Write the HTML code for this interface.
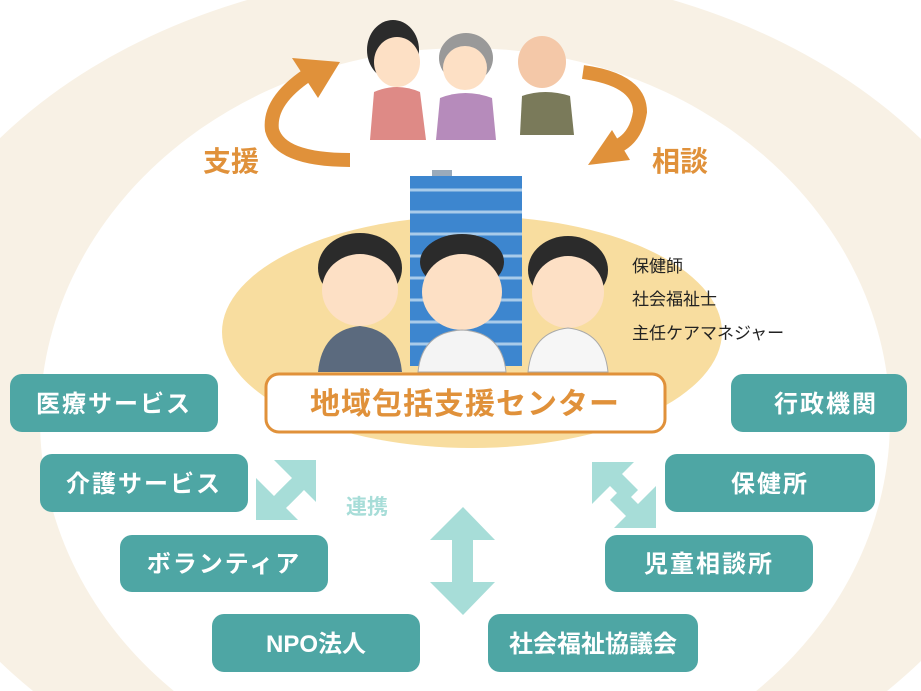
<!DOCTYPE html>
<html><head><meta charset="utf-8"><style>
html,body{margin:0;padding:0;background:#fff;width:921px;height:691px;overflow:hidden;}
svg{display:block;}
text{font-family:"Liberation Sans","Noto Sans CJK JP",sans-serif;}
</style></head><body>
<svg width="921" height="691" viewBox="0 0 921 691" xmlns="http://www.w3.org/2000/svg">
<rect width="921" height="691" fill="#fff"/>
<ellipse cx="460" cy="400" rx="580" ry="430" fill="#f8f1e5"/>
<ellipse cx="465" cy="420" rx="425" ry="372" fill="#fff"/>
<ellipse cx="472" cy="332" rx="250" ry="116" fill="#f8dd9f"/>
<!-- building -->
<rect x="432" y="170" width="20" height="8" fill="#9ab"/>
<rect x="410" y="176" width="112" height="190" fill="#3d86cf"/>
<g stroke="#a8cbea" stroke-width="3">
<line x1="410" y1="190" x2="522" y2="190"/><line x1="410" y1="212" x2="522" y2="212"/><line x1="410" y1="234" x2="522" y2="234"/><line x1="410" y1="256" x2="522" y2="256"/><line x1="410" y1="278" x2="522" y2="278"/><line x1="410" y1="300" x2="522" y2="300"/><line x1="410" y1="322" x2="522" y2="322"/><line x1="410" y1="344" x2="522" y2="344"/>
</g>
<!-- staff people -->
<g>
<ellipse cx="360" cy="268" rx="42" ry="35" fill="#2b2b2b"/>
<ellipse cx="360" cy="290" rx="38" ry="36" fill="#fde0c5"/>
<path d="M318 372 Q322 330 360 326 Q398 330 402 372Z" fill="#5b6a7e"/>
<ellipse cx="462" cy="262" rx="42" ry="28" fill="#2b2b2b"/>
<ellipse cx="462" cy="292" rx="40" ry="38" fill="#fde0c5"/>
<path d="M418 372 Q422 332 462 330 Q502 332 506 372Z" fill="#f4f4f4" stroke="#aaa"/>
<ellipse cx="568" cy="270" rx="40" ry="34" fill="#2b2b2b"/>
<ellipse cx="568" cy="292" rx="36" ry="36" fill="#fde0c5"/>
<path d="M528 372 Q532 332 568 328 Q604 332 608 372Z" fill="#f6f6f6" stroke="#aaa"/>
</g>
<!-- top people -->
<g>
<ellipse cx="393" cy="50" rx="26" ry="30" fill="#2b2b2b"/>
<ellipse cx="397" cy="62" rx="23" ry="25" fill="#fde0c5"/>
<path d="M370 140 L374 92 Q397 82 420 92 L426 140Z" fill="#de8a86"/>
<ellipse cx="466" cy="58" rx="27" ry="25" fill="#999"/>
<ellipse cx="465" cy="68" rx="22" ry="22" fill="#fde0c5"/>
<path d="M436 140 L440 98 Q465 88 492 98 L496 140Z" fill="#b68bbb"/>
<ellipse cx="542" cy="62" rx="24" ry="26" fill="#f4c8a8"/>
<path d="M520 135 L522 96 Q545 88 570 96 L574 135Z" fill="#7a7a5a"/>
</g>
<!-- orange arrows -->
<g fill="none" stroke="#e0913a" stroke-width="14">
<path d="M350 160 Q280 160 272 130 Q268 100 312 72"/>
<path d="M583 72 Q640 80 640 112 Q635 145 605 150"/>
</g>
<polygon points="292,58 340,62 318,98" fill="#e0913a"/>
<polygon points="588,165 612,130 630,160" fill="#e0913a"/>
<text x="203" y="171" font-size="28" fill="#e0913a" font-weight="bold">支援</text>
<text x="652" y="171" font-size="28" fill="#e0913a" font-weight="bold">相談</text>
<!-- roles -->
<g font-size="17" fill="#222">
<text x="632" y="272">保健師</text>
<text x="632" y="305">社会福祉士</text>
<text x="632" y="339">主任ケアマネジャー</text>
</g>
<!-- center label -->
<rect x="266" y="374" width="399" height="58" rx="13" fill="#fff" stroke="#e0913a" stroke-width="3"/>
<text x="465" y="414" font-size="30" fill="#e0913a" text-anchor="middle" letter-spacing="1" font-weight="bold">地域包括支援センター</text>
<!-- teal boxes -->
<g fill="#4ea6a4">
<rect x="10" y="374" width="208" height="58" rx="12"/>
<rect x="40" y="454" width="208" height="58" rx="12"/>
<rect x="120" y="535" width="208" height="57" rx="12"/>
<rect x="212" y="614" width="208" height="58" rx="12"/>
<rect x="731" y="374" width="176" height="58" rx="12"/>
<rect x="665" y="454" width="210" height="58" rx="12"/>
<rect x="605" y="535" width="208" height="57" rx="12"/>
<rect x="488" y="614" width="210" height="58" rx="12"/>
</g>
<g font-size="24" fill="#fff" text-anchor="middle" font-weight="bold">
<text x="114" y="412" letter-spacing="2">医療サービス</text>
<text x="144" y="492" letter-spacing="2">介護サービス</text>
<text x="224" y="572" letter-spacing="2">ボランティア</text>
<text x="316" y="652">NPO法人</text>
<text x="826" y="412" letter-spacing="2">行政機関</text>
<text x="770" y="492" letter-spacing="2">保健所</text>
<text x="709" y="572" letter-spacing="2">児童相談所</text>
<text x="593" y="652">社会福祉協議会</text>
</g>
<!-- light teal arrows -->
<g fill="#a7ddd8">
<polygon points="256,478 256,520 298,520 286,508 302,492 290,480 274,496"/>
<polygon points="316,460 316,502 304,490 288,506 276,494 292,478 274,460"/>
<polygon points="463,507 495,540 473,540 473,582 495,582 463,615 430,582 452,582 452,540 430,540"/>
<polygon points="592,462 634,462 622,474 638,490 626,502 610,486 592,504"/>
<polygon points="656,528 614,528 626,516 610,500 622,488 638,504 656,486"/>
</g>
<text x="346" y="514" font-size="21" fill="#a7ddd8" font-weight="bold">連携</text>
</svg>
</body></html>
